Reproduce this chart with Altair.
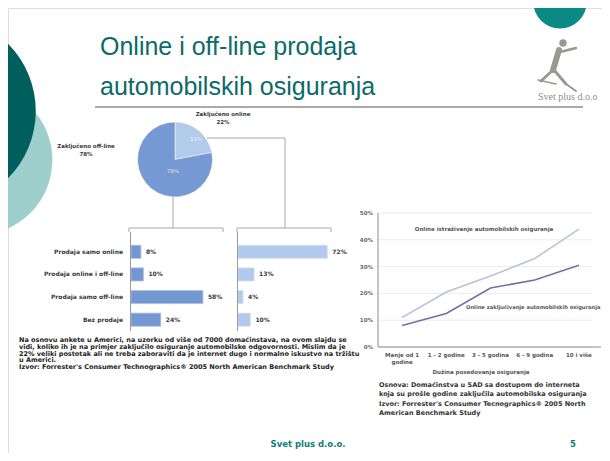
import math
import altair as alt
import pandas as pd

# ---------------- data ----------------
pie_labels = ["Zaključeno online", "Zaključeno off-line"]
pie_values = [22, 78]

bar_categories = ["Prodaja samo online", "Prodaja online i off-line",
                  "Prodaja samo off-line", "Bez prodaje"]
bar_left_values = [8, 10, 58, 24]
bar_right_values = [72, 13, 4, 10]

line_categories = ["Manje od 1 godine", "1 - 2 godine", "3 - 5 godina",
                   "6 - 9 godina", "10 i više"]
line_tick_labels = ["Manje od 1\ngodine", "1 - 2 godine", "3 - 5 godina",
                    "6 - 9 godina", "10 i više"]
line_series = ["Online istraživanje automobilskih osiguranja",
               "Online zaključivanje automobilskih osiguranja"]
line_research = [11, 20.5, 26.5, 33, 44]
line_purchase = [8, 12.5, 22, 25, 30.5]
y_ticks = [0, 10, 20, 30, 40, 50]

title_lines = ["Online i off-line prodaja", "automobilskih osiguranja"]
paragraph_lines = [
    "Na osnovu ankete u Americi, na uzorku od više od 7000 domaćinstava, na ovom slajdu se",
    "vidi, koliko ih je na primjer zaključilo osiguranje automobilske odgovornosti. Mislim da je",
    "22% veliki postotak ali ne treba zaboraviti da je internet dugo i normalno iskustvo na tržištu",
    "u Americi.",
    "Izvor: Forrester's Consumer Technographics® 2005 North American Benchmark Study",
]
caption_lines = [
    "Osnova: Domaćinstva u SAD sa dostupom do interneta",
    "koja su prošle godine zaključila automobilska osiguranja",
    "Izvor: Forrester's Consumer Tecnographics® 2005 North",
    "American Benchmark Study",
]
x_axis_title = "Dužina posedovanja osiguranja"
footer_text = "Svet plus d.o.o."
page_number = "5"
logo_text = "Svet  plus d.o.o"

# ---------------- layout helpers ----------------
M = 8  # page margin


def X(v):
    return v - M


def Y(v):
    return v - M


ONE = pd.DataFrame({"a": [0]})
SMALL_FONT = "DejaVu Sans"
TEAL = "#0c6b67"
DARK = "#3a3a3a"


def text_layer(text, x, y, size, color, weight="normal", align="left",
               baseline="alphabetic", font=SMALL_FONT, line_height=None):
    kw = dict(align=align, baseline=baseline, fontSize=size, font=font,
              fontWeight=weight, color=color, lineBreak="\n")
    if line_height:
        kw["lineHeight"] = line_height
    return alt.Chart(pd.DataFrame({"t": [text]})).mark_text(**kw).encode(
        x=alt.value(X(x)), y=alt.value(Y(y)), text="t:N")


def rule_layer(x1, y1, x2, y2, color, w=1.0, cap="butt"):
    return alt.Chart(ONE).mark_rule(color=color, strokeWidth=w, strokeCap=cap).encode(
        x=alt.value(X(x1)), y=alt.value(Y(y1)),
        x2=alt.value(X(x2)), y2=alt.value(Y(y2)))


def circle_layer(cx, cy, r, color):
    return alt.Chart(ONE).mark_circle(size=math.pi * r * r, color=color, opacity=1,
                                      strokeWidth=0).encode(
        x=alt.value(X(cx)), y=alt.value(Y(cy)))


layers = []

# ---------------- slide decoration ----------------
layers.append(circle_layer(-22.6, 160, 84.6, "#9fcfcd"))
layers.append(circle_layer(-59.5, 111, 107.5, "#005f5c"))
layers.append(circle_layer(560, 2, 30, "#0b8985"))
# logo figure
logo_c = "#9c988e"
layers.append(circle_layer(563, 43, 4.2, logo_c))
layers.append(rule_layer(559, 50, 553, 70, logo_c, 6, "round"))
layers.append(rule_layer(560, 52, 576, 48, logo_c, 2.5, "round"))
layers.append(rule_layer(553, 70, 541, 81, logo_c, 3, "round"))
layers.append(rule_layer(554, 70, 566, 84, logo_c, 3, "round"))
layers.append(rule_layer(566, 84, 576, 91, logo_c, 2, "round"))
layers.append(rule_layer(538, 80, 556, 84, logo_c, 1.5, "round"))
layers.append(text_layer(logo_text, 538, 100, 10, "#8d8d87", font="Liberation Serif"))

# title
layers.append(text_layer(title_lines[0], 100, 55, 25, TEAL, font="Liberation Sans"))
layers.append(text_layer(title_lines[1], 100, 95, 25, TEAL, font="Liberation Sans"))
layers.append(rule_layer(95, 107, 583, 107, "#555555", 1))

# slide border (top and left)
layers.append(rule_layer(0, 1.5, 610, 1.5, "#111111", 3))
layers.append(rule_layer(1.5, 0, 1.5, 461, "#111111", 3))

# ---------------- pie ----------------
pie_df = pd.DataFrame({"label": pie_labels, "value": pie_values, "order": [0, 1]})
pie = alt.Chart(pie_df).mark_arc(radius=37.5, stroke="#ffffff", strokeWidth=0.5).encode(
    theta=alt.Theta("value:Q", stack=True),
    order=alt.Order("order:Q"),
    color=alt.Color("label:N", scale=alt.Scale(domain=pie_labels,
                                               range=["#b3cbea", "#7698d3"]), legend=None),
    x=alt.value(X(175)), y=alt.value(Y(159.5)),
)
layers.append(pie)
layers.append(text_layer(f"{pie_labels[0]}\n{pie_values[0]}%", 223, 112, 5.5, DARK,
                         weight="bold", align="center", baseline="top", line_height=8))
layers.append(text_layer(f"{pie_labels[1]}\n{pie_values[1]}%", 86, 144, 5.5, DARK,
                         weight="bold", align="center", baseline="top", line_height=8))
layers.append(text_layer(f"{pie_values[0]}%", 196, 139, 5, "#d9e4f3", weight="bold",
                         align="center", baseline="middle"))
layers.append(text_layer(f"{pie_values[1]}%", 173, 171, 5, "#c7d4b8", weight="bold",
                         align="center", baseline="middle"))

# tree connectors
conn = "#a9a9a9"
layers.append(rule_layer(173, 197, 173, 228, conn))
layers.append(rule_layer(207, 138, 285, 138, conn))
layers.append(rule_layer(285, 138, 285, 228, conn))
layers.append(rule_layer(129, 228, 223, 228, conn))
layers.append(rule_layer(129, 228, 129, 232, conn))
layers.append(rule_layer(223, 228, 223, 232, conn))
layers.append(rule_layer(237, 228, 331, 228, conn))
layers.append(rule_layer(237, 228, 237, 232, conn))
layers.append(rule_layer(331, 228, 331, 232, conn))

# ---------------- bars ----------------
bar_y = alt.Scale(domain=bar_categories, range=[Y(240.5), Y(331)],
                  paddingInner=0.42, paddingOuter=0.21)
left_x = alt.Scale(domain=[0, 75], range=[X(131), X(224)])
right_x = alt.Scale(domain=[0, 75], range=[X(238), X(331)])

bar_df = pd.DataFrame({
    "cat": bar_categories,
    "left": bar_left_values,
    "right": bar_right_values,
    "left_lbl": [f"{v}%" for v in bar_left_values],
    "right_lbl": [f"{v}%" for v in bar_right_values],
})

left_bars = alt.Chart(bar_df).mark_bar(color="#7397d1", stroke="#a9c0e6",
                                       strokeWidth=0.8).encode(
    x=alt.X("left:Q", scale=left_x, axis=None),
    y=alt.Y("cat:N", scale=bar_y, axis=None, sort=bar_categories),
)
left_vals = alt.Chart(bar_df).mark_text(align="left", dx=5, fontSize=6, font=SMALL_FONT,
                                        fontWeight="bold", color=DARK).encode(
    x=alt.X("left:Q", scale=left_x, axis=None),
    y=alt.Y("cat:N", scale=bar_y, axis=None, sort=bar_categories),
    text="left_lbl:N",
)
cat_labels = alt.Chart(bar_df).mark_text(align="right", fontSize=6, font=SMALL_FONT,
                                         fontWeight="bold", color=DARK).encode(
    x=alt.value(X(123)),
    y=alt.Y("cat:N", scale=bar_y, axis=None, sort=bar_categories),
    text="cat:N",
)
right_bars = alt.Chart(bar_df).mark_bar(color="#b2c9ee", stroke="#d2e0f5",
                                        strokeWidth=0.8).encode(
    x=alt.X("right:Q", scale=right_x, axis=None),
    y=alt.Y("cat:N", scale=bar_y, axis=None, sort=bar_categories),
)
right_vals = alt.Chart(bar_df).mark_text(align="left", dx=5, fontSize=6, font=SMALL_FONT,
                                         fontWeight="bold", color=DARK).encode(
    x=alt.X("right:Q", scale=right_x, axis=None),
    y=alt.Y("cat:N", scale=bar_y, axis=None, sort=bar_categories),
    text="right_lbl:N",
)
layers += [left_bars, right_bars, left_vals, right_vals, cat_labels]
layers.append(rule_layer(130.5, 232, 130.5, 331, "#9a9a9a"))
layers.append(rule_layer(237.5, 232, 237.5, 331, "#9a9a9a"))

# paragraph
layers.append(text_layer("\n".join(paragraph_lines), 19, 337, 6.5, "#222222",
                         weight="bold", baseline="top", line_height=6.8))

# ---------------- line chart ----------------
line_x = alt.Scale(domain=line_categories, range=[X(380), X(601)], padding=0.5)
line_y = alt.Scale(domain=[0, 50], range=[Y(347), Y(213)])

tick_df = pd.DataFrame({"v": y_ticks, "lbl": [f"{v}%" for v in y_ticks]})
grid = alt.Chart(tick_df).mark_rule(color="#ececec", strokeWidth=1).encode(
    y=alt.Y("v:Q", scale=line_y, axis=None),
    x=alt.value(X(378)), x2=alt.value(X(592)),
)
ytick_lbls = alt.Chart(tick_df).mark_text(align="right", fontSize=5.5, font=SMALL_FONT,
                                          fontWeight="bold", color="#666666").encode(
    y=alt.Y("v:Q", scale=line_y, axis=None),
    x=alt.value(X(373)),
    text="lbl:N",
)
layers += [grid, ytick_lbls]
layers.append(rule_layer(378, 213, 378, 347, "#8a8a8a"))
layers.append(rule_layer(378, 347, 601, 347, "#8a8a8a"))

xlab_df = pd.DataFrame({"cat": line_categories, "lbl": line_tick_labels})
xtick_lbls = alt.Chart(xlab_df).mark_text(baseline="top", fontSize=5.5, font=SMALL_FONT,
                                          fontWeight="bold", color="#555555",
                                          lineBreak="\n", lineHeight=6.5).encode(
    x=alt.X("cat:N", scale=line_x, axis=None, sort=line_categories),
    y=alt.value(Y(353)),
    text="lbl:N",
)
layers.append(xtick_lbls)
layers.append(text_layer(x_axis_title, 481, 372, 5.5, "#555555", weight="bold",
                         align="center", baseline="middle"))

line_df = pd.DataFrame({
    "cat": line_categories * 2,
    "series": [line_series[0]] * 5 + [line_series[1]] * 5,
    "value": line_research + line_purchase,
})
lines = alt.Chart(line_df).mark_line(strokeWidth=1.6).encode(
    x=alt.X("cat:N", scale=line_x, axis=None, sort=line_categories),
    y=alt.Y("value:Q", scale=line_y, axis=None),
    color=alt.Color("series:N", scale=alt.Scale(domain=line_series,
                                                range=["#bcc2d9", "#6a74a7"]), legend=None),
    detail="series:N",
)
layers.append(lines)
layers.append(text_layer(line_series[0], 484, 229, 5.5, "#555555", weight="bold",
                         align="center", baseline="middle"))
layers.append(text_layer(line_series[1], 466, 307, 5.2, "#555555", weight="bold",
                         align="left", baseline="middle"))

# caption
layers.append(text_layer("\n".join(caption_lines), 379, 382, 6.5, "#333333",
                         weight="bold", baseline="top", line_height=9.3))

# footer
layers.append(text_layer(footer_text, 308, 444, 8.5, "#107b78", weight="bold",
                         align="center", baseline="middle"))
layers.append(text_layer(page_number, 573, 444, 8.5, "#107b78", weight="bold",
                         align="center", baseline="middle"))

chart = alt.layer(*layers).resolve_scale(
    x="independent", y="independent", color="independent", theta="independent"
).properties(
    width=594, height=445,
    autosize=alt.AutoSizeParams(type="none"),
    padding=0,
).configure_view(stroke=None).configure(background="#ffffff")

chart.save("out.html", embed_options={"renderer": "svg", "actions": False})
